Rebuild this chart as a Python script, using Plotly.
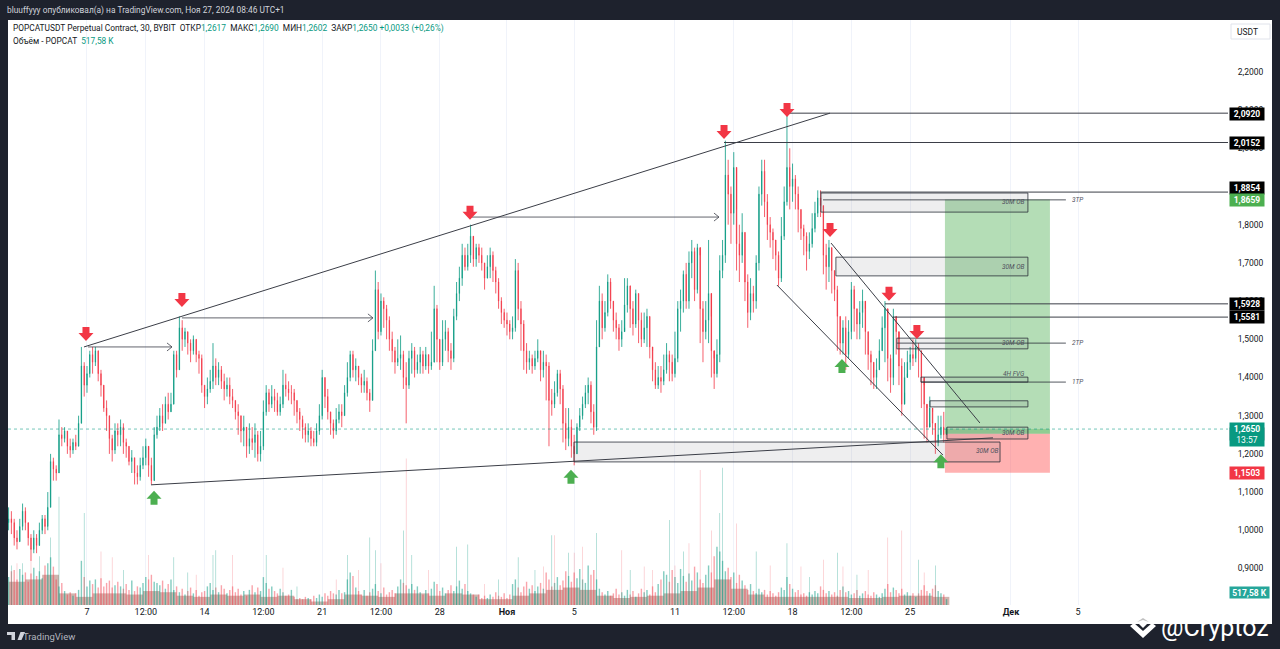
import pandas as pd
import plotly.graph_objects as go

# 4h candles, starting Oct 2
close = [1.03,1.02,0.98,0.97,1.01,1.05,1.02,0.98,0.95,0.98,
    0.96,1.00,1.03,1.01,1.06,1.18,1.16,1.15,1.25,1.24,
    1.26,1.22,1.21,1.23,1.22,1.28,1.43,1.38,1.41,1.46,
    1.44,1.47,1.41,1.38,1.32,1.30,1.24,1.21,1.26,1.25,
    1.27,1.23,1.22,1.18,1.19,1.15,1.14,1.17,1.19,1.22,
    1.17,1.13,1.25,1.27,1.30,1.28,1.33,1.31,1.33,1.46,
    1.42,1.53,1.50,1.52,1.49,1.47,1.50,1.46,1.45,1.38,
    1.35,1.37,1.39,1.43,1.40,1.42,1.39,1.37,1.38,1.35,
    1.34,1.31,1.30,1.26,1.27,1.22,1.24,1.23,1.25,1.20,
    1.22,1.31,1.36,1.33,1.35,1.34,1.31,1.33,1.38,1.37,
    1.36,1.36,1.34,1.31,1.29,1.27,1.25,1.26,1.24,1.23,
    1.26,1.30,1.40,1.35,1.31,1.28,1.26,1.29,1.31,1.30,
    1.36,1.40,1.46,1.42,1.43,1.40,1.38,1.39,1.36,1.34,
    1.47,1.63,1.52,1.60,1.58,1.55,1.50,1.47,1.44,1.45,
    1.46,1.40,1.38,1.45,1.47,1.42,1.44,1.46,1.43,1.46,
    1.43,1.44,1.58,1.50,1.44,1.50,1.52,1.47,1.45,1.56,
    1.62,1.66,1.72,1.69,1.72,1.77,1.71,1.74,1.72,1.70,
    1.66,1.69,1.72,1.68,1.65,1.60,1.57,1.55,1.54,1.52,
    1.53,1.68,1.58,1.54,1.47,1.44,1.45,1.43,1.45,1.47,
    1.42,1.44,1.43,1.34,1.33,1.36,1.41,1.37,1.28,1.24,
    1.27,1.22,1.20,1.27,1.30,1.33,1.36,1.38,1.31,1.27,
    1.48,1.60,1.53,1.57,1.65,1.60,1.55,1.53,1.50,1.52,
    1.59,1.64,1.58,1.54,1.62,1.55,1.50,1.53,1.56,1.48,
    1.42,1.38,1.40,1.39,1.42,1.46,1.44,1.41,1.45,1.58,
    1.60,1.67,1.60,1.70,1.73,1.63,1.74,1.58,1.52,1.55,
    1.62,1.47,1.41,1.46,1.68,1.72,1.93,1.88,1.83,1.95,
    1.75,1.72,1.78,1.65,1.57,1.62,1.60,1.70,1.88,1.94,
    1.86,1.80,1.78,1.76,1.72,1.66,1.77,1.86,1.95,1.90,
    1.92,1.88,1.84,1.79,1.77,1.73,1.75,1.79,1.83,1.87,
    1.85,1.72,1.69,1.74,1.68,1.63,1.56,1.49,1.53,1.46,
    1.52,1.63,1.58,1.54,1.57,1.60,1.52,1.46,1.44,1.40,
    1.42,1.47,1.53,1.58,1.45,1.40,1.56,1.52,1.43,1.33,
    1.40,1.44,1.46,1.45,1.48,1.47,1.40,1.33,1.27,1.32,
    1.28,1.23,1.25,1.27,1.25,1.265]
high = [1.06,1.05,1.03,1.00,1.03,1.07,1.06,1.02,0.99,1.00,
    0.99,1.02,1.04,1.04,1.10,1.20,1.19,1.17,1.29,1.27,
    1.27,1.26,1.24,1.24,1.25,1.30,1.48,1.44,1.43,1.47,
    1.48,1.48,1.47,1.42,1.38,1.34,1.30,1.25,1.28,1.28,
    1.29,1.28,1.24,1.22,1.21,1.19,1.17,1.19,1.22,1.24,
    1.21,1.19,1.27,1.30,1.32,1.33,1.35,1.36,1.36,1.47,
    1.47,1.56,1.55,1.53,1.52,1.50,1.51,1.50,1.47,1.46,
    1.38,1.40,1.42,1.49,1.45,1.44,1.43,1.41,1.40,1.40,
    1.37,1.34,1.33,1.30,1.30,1.27,1.28,1.27,1.28,1.26,
    1.26,1.34,1.38,1.37,1.38,1.37,1.36,1.35,1.42,1.41,
    1.39,1.38,1.37,1.34,1.32,1.30,1.28,1.28,1.27,1.26,
    1.28,1.33,1.42,1.40,1.37,1.31,1.29,1.32,1.33,1.33,
    1.38,1.44,1.47,1.47,1.45,1.43,1.41,1.42,1.40,1.37,
    1.50,1.68,1.65,1.62,1.61,1.59,1.56,1.52,1.48,1.50,
    1.51,1.47,1.44,1.47,1.49,1.48,1.46,1.48,1.47,1.48,
    1.46,1.52,1.64,1.59,1.50,1.55,1.55,1.53,1.49,1.58,
    1.65,1.69,1.75,1.74,1.75,1.80,1.76,1.75,1.75,1.74,
    1.70,1.72,1.74,1.73,1.69,1.66,1.61,1.58,1.57,1.55,
    1.56,1.71,1.70,1.60,1.55,1.49,1.47,1.46,1.47,1.50,
    1.46,1.47,1.46,1.44,1.37,1.39,1.42,1.42,1.38,1.32,
    1.32,1.29,1.25,1.28,1.32,1.35,1.38,1.40,1.39,1.33,
    1.55,1.64,1.62,1.60,1.67,1.66,1.60,1.57,1.54,1.55,
    1.66,1.66,1.64,1.60,1.63,1.62,1.57,1.57,1.58,1.56,
    1.47,1.44,1.43,1.43,1.46,1.49,1.47,1.46,1.52,1.60,
    1.63,1.68,1.70,1.73,1.76,1.74,1.75,1.72,1.60,1.60,
    1.76,1.56,1.45,1.50,1.72,1.76,2.02,1.97,1.90,1.99,
    1.84,1.80,1.83,1.78,1.67,1.66,1.64,1.72,1.90,1.97,
    1.97,1.88,1.82,1.79,1.76,1.73,1.82,1.90,2.09,2.00,
    1.96,1.93,1.90,1.84,1.80,1.78,1.78,1.83,1.86,1.89,
    1.89,1.85,1.75,1.76,1.74,1.68,1.64,1.56,1.55,1.56,
    1.55,1.65,1.64,1.58,1.60,1.63,1.58,1.52,1.47,1.44,
    1.45,1.50,1.56,1.60,1.57,1.46,1.58,1.55,1.50,1.45,
    1.44,1.47,1.48,1.50,1.50,1.49,1.47,1.38,1.32,1.35,
    1.31,1.27,1.30,1.30,1.31,1.269]
low = [1.00,0.99,0.96,0.95,0.97,1.00,1.00,0.96,0.92,0.94,
    0.94,0.96,0.99,0.99,1.00,1.06,1.13,1.13,1.15,1.22,
    1.23,1.20,1.19,1.20,1.21,1.22,1.28,1.35,1.36,1.40,
    1.41,1.43,1.39,1.35,1.31,1.26,1.20,1.18,1.20,1.22,
    1.22,1.20,1.19,1.17,1.15,1.12,1.12,1.13,1.16,1.17,
    1.14,1.12,1.13,1.24,1.26,1.26,1.28,1.29,1.31,1.33,
    1.40,1.42,1.47,1.48,1.46,1.44,1.46,1.44,1.41,1.36,
    1.32,1.33,1.36,1.37,1.38,1.38,1.37,1.34,1.35,1.33,
    1.32,1.29,1.25,1.23,1.22,1.19,1.20,1.21,1.19,1.18,
    1.18,1.21,1.30,1.31,1.32,1.31,1.30,1.30,1.32,1.35,
    1.34,1.33,1.30,1.28,1.26,1.24,1.23,1.23,1.22,1.22,
    1.22,1.25,1.29,1.32,1.29,1.25,1.24,1.25,1.28,1.27,
    1.30,1.35,1.39,1.40,1.39,1.38,1.36,1.36,1.34,1.31,
    1.34,1.47,1.50,1.51,1.53,1.50,1.47,1.44,1.41,1.43,
    1.42,1.37,1.28,1.37,1.41,1.40,1.41,1.41,1.41,1.42,
    1.41,1.42,1.44,1.44,1.42,1.43,1.47,1.44,1.42,1.44,
    1.55,1.60,1.64,1.68,1.68,1.70,1.69,1.69,1.70,1.68,
    1.63,1.66,1.66,1.65,1.62,1.58,1.54,1.53,1.51,1.50,
    1.50,1.52,1.55,1.47,1.42,1.41,1.42,1.41,1.42,1.44,
    1.39,1.40,1.34,1.22,1.30,1.32,1.35,1.33,1.23,1.21,
    1.22,1.19,1.17,1.20,1.26,1.29,1.32,1.33,1.28,1.25,
    1.26,1.48,1.50,1.52,1.56,1.58,1.52,1.50,1.47,1.48,
    1.53,1.57,1.53,1.51,1.53,1.49,1.48,1.49,1.48,1.45,
    1.39,1.37,1.37,1.36,1.38,1.41,1.39,1.39,1.40,1.44,
    1.52,1.57,1.58,1.58,1.66,1.60,1.62,1.49,1.44,1.50,
    1.49,1.40,1.37,1.40,1.44,1.66,1.70,1.80,1.75,1.80,
    1.68,1.65,1.70,1.60,1.53,1.55,1.57,1.58,1.68,1.85,
    1.82,1.76,1.74,1.71,1.68,1.64,1.65,1.76,1.85,1.84,
    1.86,1.84,1.78,1.76,1.72,1.68,1.71,1.74,1.78,1.82,
    1.82,1.67,1.63,1.65,1.62,1.60,1.47,1.46,1.46,1.42,
    1.45,1.50,1.52,1.50,1.50,1.53,1.46,1.42,1.38,1.37,
    1.37,1.42,1.47,1.44,1.39,1.36,1.38,1.46,1.38,1.30,
    1.36,1.41,1.42,1.43,1.44,1.40,1.32,1.24,1.23,1.28,
    1.25,1.20,1.22,1.24,1.23,1.26]
first_open = 1.02

# volume per 4h, millions
volume = [2.4,2.9,3.0,2.2,3.1,2.6,2.8,2.0,2.7,3.2,
    2.5,2.9,2.3,3.4,3.6,4.1,3.3,2.2,1.6,1.9,
    1.2,0.9,1.1,0.8,1.0,1.3,3.8,2.4,1.6,2.1,
    1.8,2.2,1.5,2.3,1.6,1.9,2.1,1.5,1.7,2.0,
    1.6,1.4,1.8,1.3,2.1,1.2,1.6,1.5,1.9,2.4,
    2.2,2.6,2.0,1.9,1.7,2.1,1.4,1.8,2.2,1.3,
    1.6,1.1,1.4,0.9,1.2,1.5,1.0,1.3,0.8,1.1,
    1.2,1.6,1.9,1.3,1.5,1.1,1.7,1.4,1.0,1.3,
    1.6,1.1,1.4,0.9,1.2,0.8,1.3,1.7,1.1,1.5,
    1.2,2.4,1.9,1.4,1.6,1.2,1.0,1.4,1.1,0.8,
    0.9,1.3,0.7,0.5,0.6,0.5,0.7,0.6,0.5,0.8,
    0.6,0.9,0.7,1.0,0.8,1.2,1.0,0.9,1.3,1.0,
    1.1,2.2,2.8,2.5,1.5,1.2,0.9,1.3,0.8,1.1,
    1.4,1.8,1.2,1.0,1.5,0.9,1.1,1.3,1.0,1.6,
    2.2,1.9,1.7,1.4,1.8,1.3,1.6,1.1,0.9,1.3,
    1.0,1.4,2.0,1.8,1.2,1.5,1.0,1.3,1.7,1.2,
    1.6,2.1,1.4,1.8,1.2,1.0,0.9,0.7,0.9,0.6,
    0.8,0.6,0.9,0.7,1.1,0.8,0.7,1.0,0.6,0.9,
    1.8,2.2,1.5,1.1,1.6,2.0,1.4,1.7,1.2,1.6,
    1.9,1.4,2.8,2.2,1.6,1.9,2.4,1.7,2.1,2.9,
    2.5,2.0,2.8,2.3,3.1,2.2,1.9,3.4,2.6,3.0,
    2.2,1.4,1.1,0.9,1.2,0.8,1.0,1.4,0.9,1.1,
    0.8,1.3,0.9,1.2,0.7,1.0,1.4,1.1,1.3,0.9,
    1.6,1.1,1.8,2.2,2.9,2.6,2.0,3.0,2.4,1.9,
    3.1,2.5,2.0,2.7,2.1,3.3,2.8,2.2,1.9,2.6,
    3.4,2.8,4.2,5.0,4.6,3.8,2.9,3.2,2.4,2.8,
    1.9,2.6,2.1,1.7,1.3,1.8,1.2,1.0,1.4,1.1,
    1.3,0.9,1.2,1.0,0.8,1.1,1.5,1.3,2.4,1.8,
    1.4,1.1,1.3,0.9,1.0,0.8,1.1,0.9,1.2,1.0,
    1.6,1.3,1.0,1.2,0.9,1.1,0.8,1.3,1.6,1.1,
    1.2,0.9,1.0,1.3,0.8,1.0,1.2,0.9,0.8,1.1,
    0.9,0.7,1.0,1.4,1.8,1.1,1.5,1.3,1.0,1.4,
    0.9,1.1,0.8,1.0,0.7,1.0,1.3,1.7,1.2,1.0,
    1.4,1.7,1.2,1.0,0.9,0.5]

# the solid mass at the foot of the volume pane, per day
volume_floor = [2.0,2.2,2.6,1.0,0.7,1.0,1.0,0.9,1.2,1.1,
    0.8,0.7,0.9,0.8,0.9,0.7,0.8,0.5,0.3,0.5,
    0.9,0.8,0.7,1.0,1.0,0.8,1.0,0.9,0.5,0.5,
    0.8,1.0,1.3,1.5,1.3,0.8,0.6,0.7,0.8,1.0,
    1.2,1.5,2.2,1.4,0.9,0.7,0.7,0.7,0.7,0.7,
    0.6,0.6,0.7,0.8,0.8,0.7]

# tallest single bars, by candle index
spike_up_idx = [1,5,11,15,18,27,41,59,64,73,74,92,103,121,129,131,141,144,160,164,175,182,188,194,200,210,222,236,241,254,255,267,278,286,296,303,325,331]
spike_up_vol = [3.4,3.6,4.2,5.8,9.3,7.9,3.0,4.1,2.8,4.3,4.7,4.3,1.6,4.3,5.8,4.7,6.4,4.3,5.0,5.2,2.2,4.1,3.0,6.0,4.5,6.2,3.0,7.3,4.6,7.9,11.8,4.6,5.3,2.4,4.5,2.6,3.9,3.4]
spike_dn_idx = [3,8,33,37,50,67,80,98,117,125,133,142,150,170,191,195,202,205,219,227,230,238,243,247,251,260,272,283,291,298,307,314,319,327]
spike_dn_vol = [3.6,3.9,4.6,4.1,4.3,2.6,4.3,3.2,2.2,3.0,3.6,12.6,3.0,1.8,3.3,6.0,4.5,5.0,4.7,3.3,3.0,3.4,5.3,11.6,6.4,7.0,3.4,3.3,3.9,3.3,3.0,5.8,6.4,2.8]

price_ticks = [0.9,1.0,1.1,1.2,1.3,1.4,1.5,1.6,1.7,1.8,1.9,2.0,2.1,2.2]
time_tick_days = [6,9.5,13,16.5,20,23.5,27,31,35,41,44.5,48,51.5,55,61,65]
time_tick_text = ["7","12:00","14","12:00","21","12:00","28","<b>Ноя</b>","5","11","12:00","18","12:00","25","<b>Дек</b>","5"]

# drawings on the chart: (day from Oct 1, price)
trend_lines = [
    (5.82,1.480,50.23,2.092),
    (9.81,1.119,56.77,1.234),
    (56.77,1.234,59.93,1.242),
    (47.07,1.642,56.95,1.197),
    (50.29,1.752,59.15,1.281),
]
level_lines = [(47.67,2.0920),(43.92,2.0152),(49.63,1.8854),(53.5,1.5928),(53.98,1.5581)]
arrows = [(6.06,11.06,1.480),(11.65,23.02,1.556),(28.80,43.62,1.820)]
ob_boxes = [
    (49.69,62.01,1.833,1.883),
    (50.58,62.01,1.666,1.715),
    (54.21,62.01,1.475,1.503),
    (55.64,62.01,1.388,1.401),
    (56.18,62.01,1.323,1.339),
    (57.19,62.01,1.239,1.270),
    (34.99,60.35,1.179,1.231),
]
box_labels = [(61.18,1.860,"30M OB"),(61.18,1.690,"30M OB"),(61.18,1.490,"30M OB"),(61.18,1.408,"4H FVG"),(61.18,1.255,"30M OB"),(59.63,1.208,"30M OB")]
tp_lines = [(49.81,64.27,1.865,"3TP"),(54.21,64.27,1.490,"2TP"),(55.64,64.27,1.388,"1TP")]
red_arrows = [(5.94,1.514),(11.65,1.603),(28.8,1.831),(43.92,2.043),(47.67,2.100),(50.23,1.786),(53.74,1.619),(55.4,1.519)]
green_arrows = [(9.99,1.085),(34.81,1.140),(50.94,1.43),(56.83,1.181)]

entry_price = 1.2527
target_price = 1.8659
stop_price = 1.1503
last_price = 1.2650
pos_start, pos_end = 57.07, 63.32

TEAL = "#089981"
RED = "#f23645"
GREEN = "#4caf50"
DARK = "#131722"
BG = "#1e222d"
FONT = "Roboto"
W, H = 1280, 649


def at(day):
    return str(pd.Timestamp("2024-10-01") + pd.Timedelta(days=day))


def px(x):
    return x / W


def py(y):
    return 1 - y / H


times = pd.date_range("2024-10-02 08:00", periods=len(close), freq="4h")
floor_times = pd.date_range("2024-10-02 20:00", periods=len(volume_floor), freq="D")
opens = [first_open] + close[:-1]
vol_colors = ["rgba(8,153,129,0.5)" if c >= o else "rgba(242,54,69,0.45)" for o, c in zip(opens, close)]

fig = go.Figure()

# volume sits on the primary axis so it draws under the candles
fig.add_trace(go.Bar(x=floor_times, y=volume_floor, marker_color="rgba(185,140,130,0.65)", marker_line_width=0, width=24 * 3600 * 1000, yaxis="y"))
fig.add_trace(go.Bar(x=times, y=volume, marker_color=vol_colors, marker_line_width=0, width=2 * 3600 * 1000, yaxis="y"))
fig.add_trace(go.Bar(x=times[spike_up_idx], y=spike_up_vol, marker_color="rgba(8,153,129,0.5)", marker_line_width=0, width=3000 * 1000, yaxis="y"))
fig.add_trace(go.Bar(x=times[spike_dn_idx], y=spike_dn_vol, marker_color="rgba(242,54,69,0.35)", marker_line_width=0, width=3000 * 1000, yaxis="y"))

fig.add_trace(go.Candlestick(
    x=times, open=opens, high=high, low=low, close=close, yaxis="y2",
    increasing=dict(line=dict(color=TEAL, width=0.8), fillcolor=TEAL),
    decreasing=dict(line=dict(color=RED, width=0.8), fillcolor=RED),
    whiskerwidth=0, hoverinfo="skip",
))

shapes = []
annotations = []


def line(x0, y0, x1, y1, color="#3b3e47", width=1, dash="solid"):
    shapes.append(dict(type="line", xref="x", yref="y2", x0=at(x0), y0=y0, x1=at(x1), y1=y1,
                       line=dict(color=color, width=width, dash=dash)))


def text(x, y, s, size=9, color=DARK, xanchor="left", xref="paper", yref="paper", **kw):
    annotations.append(dict(x=x, y=y, xref=xref, yref=yref, text=s, showarrow=False, xanchor=xanchor,
                            yanchor="middle", font=dict(family=FONT, size=size, color=color), **kw))


# white chart panel on the dark page
shapes.append(dict(type="rect", xref="paper", yref="paper", x0=px(8), x1=px(1272), y0=py(624), y1=py(20),
                   fillcolor="white", line_width=0, layer="below"))

# long position
shapes.append(dict(type="rect", xref="x", yref="y2", x0=at(pos_start), x1=at(pos_end), y0=entry_price, y1=target_price,
                   fillcolor="rgba(76,175,80,0.42)", line_width=0))
shapes.append(dict(type="rect", xref="x", yref="y2", x0=at(pos_start), x1=at(pos_end), y0=stop_price, y1=entry_price,
                   fillcolor="rgba(255,82,82,0.45)", line_width=0))
shapes.append(dict(type="rect", xref="x", yref="y2", x0=at(pos_start), x1=at(pos_end), y0=entry_price, y1=last_price,
                   fillcolor="rgba(76,175,80,0.35)", line_width=0))

for d0, d1, p0, p1 in ob_boxes:
    shapes.append(dict(type="rect", xref="x", yref="y2", x0=at(d0), x1=at(d1), y0=p0, y1=p1,
                       fillcolor="rgba(120,123,134,0.13)", line=dict(color="#2a2e39", width=0.8)))
for d, p, s in box_labels:
    text(at(d), p, "<i>" + s + "</i>", size=6.5, color="#50535e", xanchor="center", xref="x", yref="y2")
for d0, d1, p, s in tp_lines:
    line(d0, p, d1, p, color="#2a2e39", width=0.8)
    text(at(d1 + 0.25), p, "<i>" + s + "</i>", size=6.5, color="#50535e", xref="x", yref="y2")

for x0, y0, x1, y1 in trend_lines:
    line(x0, y0, x1, y1)
for d, p in level_lines:
    shapes.append(dict(type="line", xref="x", yref="y2", x0=at(d), x1=at(73.92), y0=p, y1=p,
                       line=dict(color="#3b3e47", width=1)))
for d0, d1, p in arrows:
    line(d0, p, d1, p, width=0.8)
    shapes.append(dict(type="path", xref="x", yref="y2", xsizemode="pixel", ysizemode="pixel", xanchor=at(d1), yanchor=p,
                       path="M -5 4 L 0 0 L -5 -4", line=dict(color="#3b3e47", width=0.8)))

shapes.append(dict(type="line", xref="paper", yref="y2", x0=px(8), x1=px(1228), y0=last_price, y1=last_price,
                   line=dict(color="rgba(8,153,129,0.55)", width=1, dash="dot")))

DOWN = "M -3.5 7 L 3.5 7 L 3.5 1 L 7.5 1 L 0 -7 L -7.5 1 L -3.5 1 Z"
UP = "M -3.5 -7 L 3.5 -7 L 3.5 -1 L 7.5 -1 L 0 7 L -7.5 -1 L -3.5 -1 Z"
for d, p in red_arrows:
    shapes.append(dict(type="path", xref="x", yref="y2", xsizemode="pixel", ysizemode="pixel", xanchor=at(d), yanchor=p,
                       path=DOWN, fillcolor=RED, line_width=0))
for d, p in green_arrows:
    shapes.append(dict(type="path", xref="x", yref="y2", xsizemode="pixel", ysizemode="pixel", xanchor=at(d), yanchor=p,
                       path=UP, fillcolor=GREEN, line_width=0))

# price tags on the scale (price, text, colour, nudge up in px so they do not collide)
tags = [(2.0920, "2,0920", "#000000", -1), (2.0152, "2,0152", "#000000", -1), (1.8854, "1,8854", "#000000", 4),
        (1.8659, "1,8659", GREEN, 0), (1.5928, "1,5928", "#000000", 0), (1.5581, "1,5581", "#000000", 0),
        (1.2527, "1,2527", "#787b86", 0), (1.1503, "1,1503", RED, 0)]
for p, s, col, nudge in tags:
    annotations.append(dict(x=px(1247), y=p, xref="paper", yref="y2", xanchor="center", yshift=nudge, text="<b>" + s + "</b>",
                            showarrow=False, bgcolor=col, width=33, height=11, borderpad=0.5,
                            font=dict(family=FONT, size=8.5, color="white")))
annotations.append(dict(x=px(1247), y=last_price, yshift=-5, xref="paper", yref="y2", xanchor="center", text="<b>1,2650</b><br>13:57",
                        showarrow=False, bgcolor=TEAL, width=33, height=22, borderpad=0.5, font=dict(family=FONT, size=8.5, color="white")))
annotations.append(dict(x=px(1249.5), y=py(599), xref="paper", yref="paper", xanchor="center", text="<b>517,58 K</b>", showarrow=False,
                        bgcolor="#26a69a", width=39, height=11, borderpad=0, font=dict(family=FONT, size=8.5, color="white")))

shapes.append(dict(type="rect", xref="paper", yref="paper", x0=px(1231), x1=px(1270), y0=py(39), y1=py(24),
                   fillcolor="white", line=dict(color="#e0e3eb", width=1)))
text(px(1247), py(31.5), "USDT", size=8.5, color="#131722", xanchor="center")

# header and legend
text(px(5), py(10), "bluuffyyy опубликовал(а) на TradingView.com, Ноя 27, 2024 08:46 UTC+1", size=8.35, color="#d1d4dc")
val = lambda s: '<span style="color:#089981">' + s + "</span>"
text(px(11), py(29), "POPCATUSDT Perpetual Contract, 30, BYBIT  ОТКР" + val("1,2617") + "  МАКС" + val("1,2690")
     + "  МИН" + val("1,2602") + "  ЗАКР" + val("1,2650") + " " + val("+0,0033 (+0,26%)"), size=8.35)
text(px(11), py(41), "Объём - POPCAT  " + val("517,58 K"), size=8.35)

# footer logo and watermark
shapes.append(dict(type="path", xref="paper", yref="paper", xsizemode="pixel", ysizemode="pixel", xanchor=px(7), yanchor=py(636),
                   path="M 0 4 L 8 4 L 8 -4 L 4.5 -4 L 4.5 1 L 0 1 Z M 13.5 4 L 18 4 L 14.5 -4 L 10.5 -4 Z", fillcolor="#d1d4dc", line_width=0))
text(px(21), py(636), "TradingView", size=9.5, color="#b2b5be")
shapes.append(dict(type="path", xref="paper", yref="paper", xsizemode="pixel", ysizemode="pixel", xanchor=px(1143), yanchor=py(628),
                   path="M -13 2 L 0 -10 L 13 2 L 9 5 L 0 -3 L -9 5 Z M 0 8 L -4 4 L 0 0 L 4 4 Z", fillcolor="white", line_width=0))
shapes.append(dict(type="path", xref="paper", yref="paper", xsizemode="pixel", ysizemode="pixel", xanchor=px(1143), yanchor=py(628),
                   path="M -6 6 L 0 10 L 6 6 L 0 8 Z", fillcolor="rgba(150,150,150,0.6)", line_width=0))
text(px(1159), py(627), "@Cryptoz", size=25, color="white")

fig.update_layout(
    width=W, height=H, margin=dict(l=0, r=0, t=0, b=0),
    paper_bgcolor=BG, plot_bgcolor="rgba(0,0,0,0)",
    showlegend=False, barmode="overlay", boxgap=0.8, hovermode=False,
    shapes=shapes, annotations=annotations,
    font=dict(family=FONT, size=9, color=DARK),
    xaxis=dict(domain=[px(8), px(1228)], range=[at(1.298), at(73.92)], type="date",
               tickvals=[at(d) for d in time_tick_days], ticktext=time_tick_text,
               showgrid=True, gridcolor="#f0f3fa", gridwidth=1, ticks="", zeroline=False,
               rangeslider=dict(visible=False), tickfont=dict(size=9, color=DARK), showline=False),
    yaxis=dict(domain=[py(605), py(20)], range=[0, 50.3], visible=False, fixedrange=True),
    yaxis2=dict(domain=[py(605), py(20)], range=[0.8044, 2.3359], overlaying="y", side="right",
                tickvals=price_ticks, ticktext=[("%.4f" % p).replace(".", ",") for p in price_ticks],
                showgrid=False, zeroline=False, ticks="outside", ticklen=7, tickcolor="rgba(0,0,0,0)",
                tickfont=dict(size=8.5, color=DARK), anchor="x", showline=False),
)

fig.write_html("out.html", config={"displayModeBar": False}, post_script="document.body.style.margin='0';")
